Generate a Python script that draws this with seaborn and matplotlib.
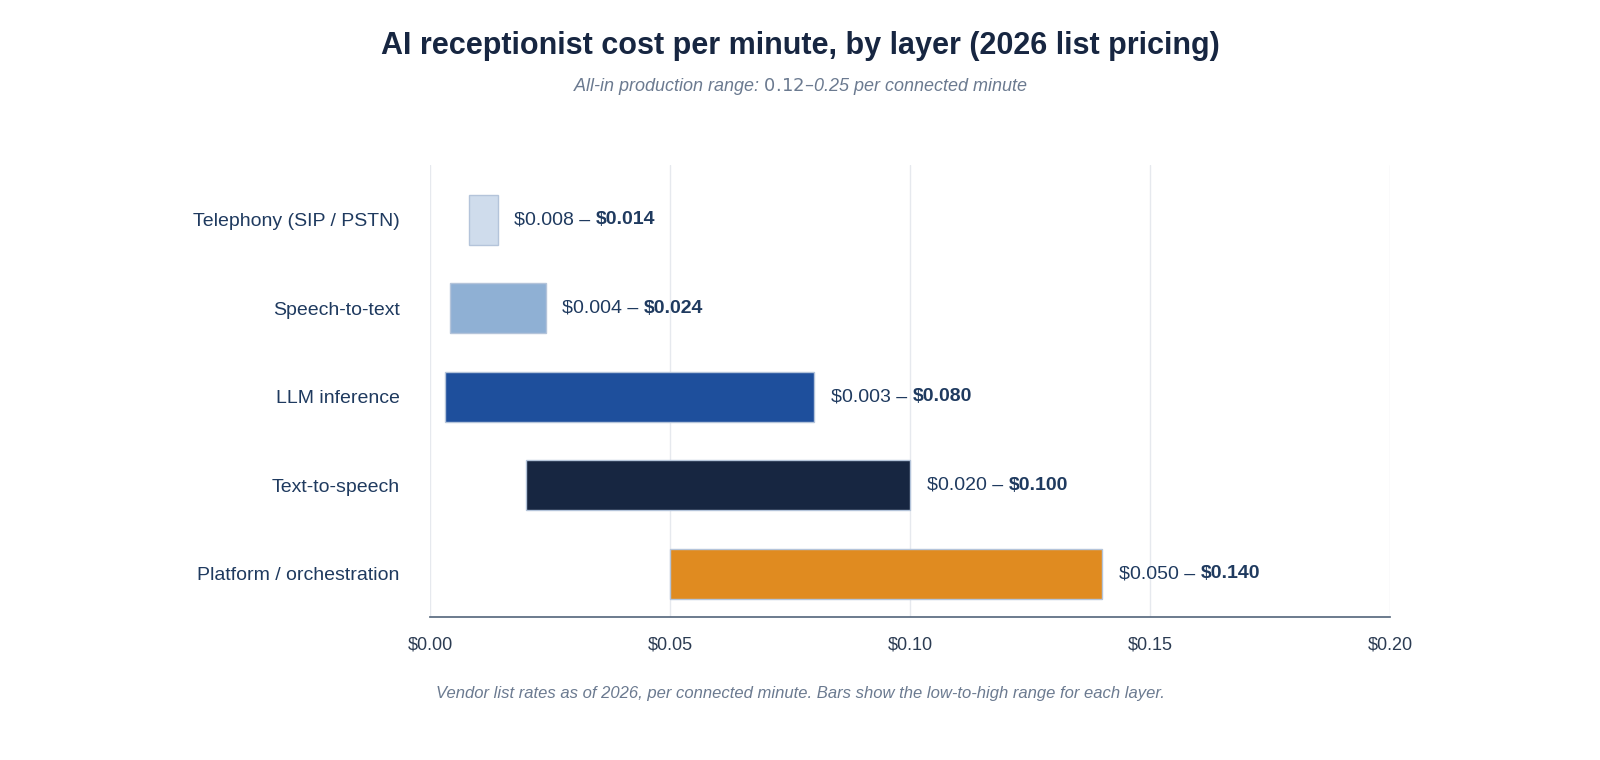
import matplotlib
matplotlib.use("Agg")
import matplotlib.pyplot as plt
import seaborn as sns
import pandas as pd

layers = ["Telephony (SIP / PSTN)", "Speech-to-text", "LLM inference", "Text-to-speech", "Platform / orchestration"]
low = [0.008, 0.004, 0.003, 0.020, 0.050]
high = [0.014, 0.024, 0.080, 0.100, 0.140]
colors = ["#cfdcec", "#8fb0d4", "#1e4f9c", "#172641", "#e08b20"]
xticks = [0.00, 0.05, 0.10, 0.15, 0.20]
xticklabels = ["$0.00", "$0.05", "$0.10", "$0.15", "$0.20"]

sns.set_theme(style="white")
plt.rcParams['font.family'] = ['Liberation Sans', 'DejaVu Sans']

fig = plt.figure(figsize=(16, 7.6), dpi=100)
ax = fig.add_axes([0.269, 0.188, 0.6, 0.595])
df = pd.DataFrame({"layer": layers, "high": high})
sns.barplot(data=df, y="layer", x="high", hue="layer", palette=colors, legend=False,
            width=0.57, ax=ax, edgecolor="#b4c4da", linewidth=1, saturation=1)
for p, lo, hi in zip(ax.patches, low, high):
    p.set_x(lo)
    p.set_width(hi - lo)

ax.set_xlim(0, 0.2)
ax.set_ylim(4.49, -0.62)
ax.set_xticks(xticks)
ax.set_xticklabels(xticklabels, fontsize=13, color="#2b3b52")
ax.set_yticks(range(len(layers)))
ax.set_yticklabels(layers, fontsize=14, color="#1f3a5f")
ax.set_xlabel(""); ax.set_ylabel("")
for x in xticks:
    ax.axvline(x, color="#e6e9ee", lw=1, zorder=0)
for s in ["top", "right", "left"]:
    ax.spines[s].set_visible(False)
ax.spines["bottom"].set_color("#5a6b80")
ax.tick_params(axis="x", length=6, color="#5a6b80", pad=8)
ax.tick_params(axis="y", length=0, pad=22)

fig.canvas.draw()
for i, (lo, hi) in enumerate(zip(low, high)):
    t = ax.annotate(f"${lo:.3f} – ", xy=(hi, i), xytext=(12, 0), textcoords="offset points",
                    va="center", ha="left", fontsize=14, color="#1f3a5f")
    ax.annotate(f"${hi:.3f}", xy=(1, 0.5), xycoords=t, va="center", ha="left",
                fontsize=14, fontweight="bold", color="#1f3a5f")

fig.text(0.5, 0.94, "AI receptionist cost per minute, by layer (2026 list pricing)", ha="center",
         va="center", fontsize=22, fontweight="bold", color="#172641")
fig.text(0.5, 0.886, "All-in production range: $0.12 – $0.25 per connected minute", ha="center",
         va="center", fontsize=13, style="italic", color="#6b7a90")
fig.text(0.5, 0.088, "Vendor list rates as of 2026, per connected minute. Bars show the low-to-high range for each layer.",
         ha="center", va="center", fontsize=12, style="italic", color="#6b7a90")
fig.savefig("out.png", dpi=100, facecolor="white")
